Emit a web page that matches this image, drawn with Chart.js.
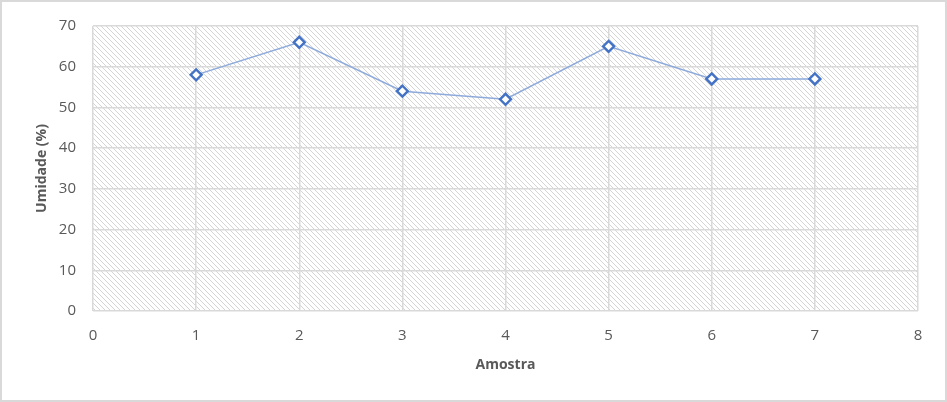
<!DOCTYPE html>
<html>
<head>
<meta charset="utf-8">
<script src="https://cdn.jsdelivr.net/npm/chart.js@4.4.0/dist/chart.umd.min.js"></script>
<style>
html,body{margin:0;padding:0;background:#fff;}
#wrap{width:947px;height:402px;position:relative;}
</style>
</head>
<body>
<div id="wrap"><canvas id="c" width="947" height="402"></canvas></div>
<script>
const samples = [1, 2, 3, 4, 5, 6, 7];
const moisture = [58, 66, 54, 52, 65, 57, 57];
const xTitle = 'Amostra';
const yTitle = 'Umidade (%)';

function makePattern() {
  const s = 5;
  const pc = document.createElement('canvas');
  pc.width = s; pc.height = s;
  const g = pc.getContext('2d');
  g.fillStyle = '#ffffff';
  g.fillRect(0, 0, s, s);
  g.strokeStyle = '#d4d4d4';
  g.lineWidth = 1;
  g.beginPath();
  g.moveTo(-1, -1); g.lineTo(s + 1, s + 1);
  g.moveTo(-1, s - 1); g.lineTo(1, s + 1);
  g.moveTo(s - 1, -1); g.lineTo(s + 1, 1);
  g.stroke();
  return g.createPattern(pc, 'repeat');
}

const bgPlugin = {
  id: 'bg',
  beforeDraw(chart) {
    const ctx = chart.ctx;
    ctx.save();
    ctx.fillStyle = '#ffffff';
    ctx.fillRect(0, 0, chart.width, chart.height);
    const a = chart.chartArea;
    ctx.fillStyle = makePattern();
    ctx.fillRect(a.left, a.top, a.right - a.left, a.bottom - a.top);
    ctx.restore();
  },
  afterDraw(chart) {
    const ctx = chart.ctx;
    ctx.save();
    ctx.strokeStyle = '#d9d9d9';
    ctx.lineWidth = 2;
    ctx.strokeRect(1, 1, chart.width - 2, chart.height - 2);
    ctx.restore();
  }
};

const data = samples.map((x, i) => ({x: x, y: moisture[i]}));
const font = {family: "'Open Sans', 'Noto Sans', sans-serif", size: 15};

new Chart(document.getElementById('c'), {
  type: 'line',
  data: {
    datasets: [{
      data: data,
      borderColor: '#8eaadb',
      borderWidth: 1.5,
      pointStyle: 'rectRot',
      pointRadius: 5.5,
      pointBorderColor: '#4472c4',
      pointBackgroundColor: '#ffffff',
      pointBorderWidth: 2.4,
      tension: 0
    }]
  },
  options: {
    responsive: false,
    animation: false,
    layout: {padding: {top: 22, right: 29, left: 0, bottom: 0}},
    plugins: {legend: {display: false}, tooltip: {enabled: false}},
    scales: {
      x: {
        type: 'linear', min: 0, max: 8,
        ticks: {stepSize: 1, color: '#595959', font: font, padding: 16, maxRotation: 0},
        grid: {color: '#d9d9d9', lineWidth: 1.5, drawTicks: false},
        border: {display: false},
        title: {display: true, text: xTitle, color: '#595959', font: {family: font.family, size: 14, weight: 'bold'}, padding: {top: 0, bottom: 29}},
        afterFit(s) { s.height = 91; }
      },
      y: {
        min: 0, max: 70,
        ticks: {stepSize: 10, color: '#595959', font: font, padding: 17},
        grid: {color: '#d9d9d9', lineWidth: 1.5, drawTicks: false},
        border: {display: false},
        title: {display: true, text: yTitle, color: '#595959', font: {family: font.family, size: 14, weight: 'bold'}, padding: {top: 34, bottom: 0}},
        afterFit(s) { s.width = 93; }
      }
    }
  },
  plugins: [bgPlugin]
});
</script>
</body>
</html>
